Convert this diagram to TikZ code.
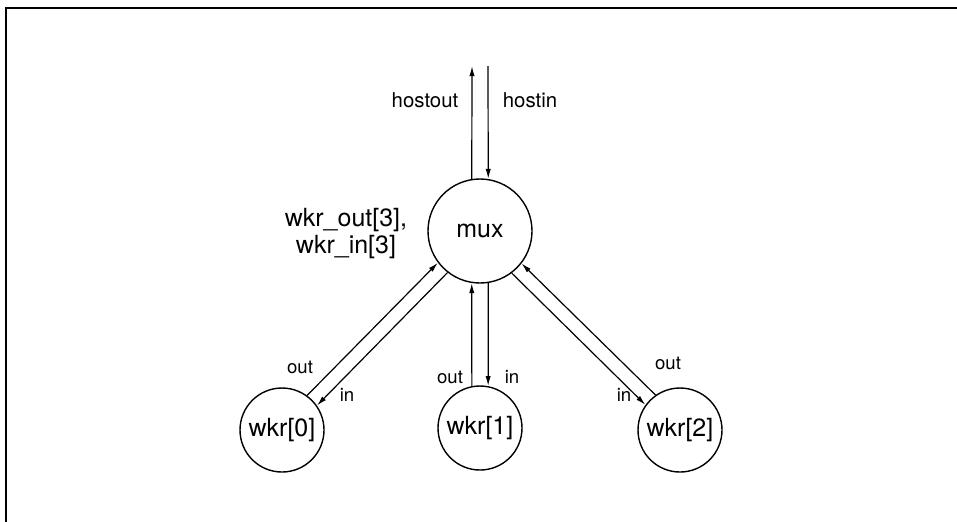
\documentclass[tikz,border=0pt]{standalone}
\usepackage{fontspec}
\setmainfont{TeX Gyre Heros}
\usetikzlibrary{arrows.meta}

\begin{document}
\begin{tikzpicture}[x=0.5pt, y=-0.5pt, >={Latex[length=5pt,width=2.6pt]},
  bigproc/.style={circle, draw, line width=0.7pt, minimum size=52pt, inner sep=0pt, font=\fontsize{12.5}{13.5}\selectfont},
  proc/.style={circle, draw, line width=0.7pt, minimum size=42pt, inner sep=0pt, font=\fontsize{12.5}{13.5}\selectfont},
  chan/.style={line width=0.6pt},
  port/.style={inner sep=0pt, font=\fontsize{9.3}{11}\selectfont},
  hostlbl/.style={inner sep=0pt, font=\fontsize{10.2}{12}\selectfont}]
  \useasboundingbox (0,0) rectangle (957,521);
  \draw[line width=1pt] (6,530) -- (6,8) -- (965,8);

  \node[bigproc] (mux) at (480,231) {mux};
  \node[proc] (w0) at (282,430) {wkr[0]};
  \node[proc] (w1) at (480,428) {wkr[1]};
  \node[proc] (w2) at (680,430) {wkr[2]};
  \coordinate (hout) at (472,66);
  \coordinate (hin) at (488,66);

  \draw[chan,->] (mux.99) -- (hout);
  \draw[chan,->] (hin) -- (mux.81);
  \draw[chan,->] (w0.54.6) -- (mux.217.3);
  \draw[chan,->] (mux.232.7) -- (w0.35.4);
  \draw[chan,->] (w1.101) -- (mux.261);
  \draw[chan,->] (mux.279) -- (w1.79);
  \draw[chan,->] (w2.125.4) -- (mux.322.7);
  \draw[chan,->] (mux.307.3) -- (w2.144.6);

  \node[hostlbl] (lhout) at (425,100) {hostout};
  \node[hostlbl] (lhin) at (530,100) {hostin};
  \node[align=center, inner sep=0pt, font=\fontsize{12.5}{13.5}\selectfont] (lwkr) at (346,234) {wkr\_out[3],\\wkr\_in[3]};
  \node[port] (o0) at (300,367) {out};
  \node[port] (i0) at (347,395) {in};
  \node[port] (o1) at (450,377) {out};
  \node[port] (i1) at (512,377) {in};
  \node[port] (o2) at (668,363) {out};
  \node[port] (i2) at (624,395) {in};
\end{tikzpicture}
\end{document}
